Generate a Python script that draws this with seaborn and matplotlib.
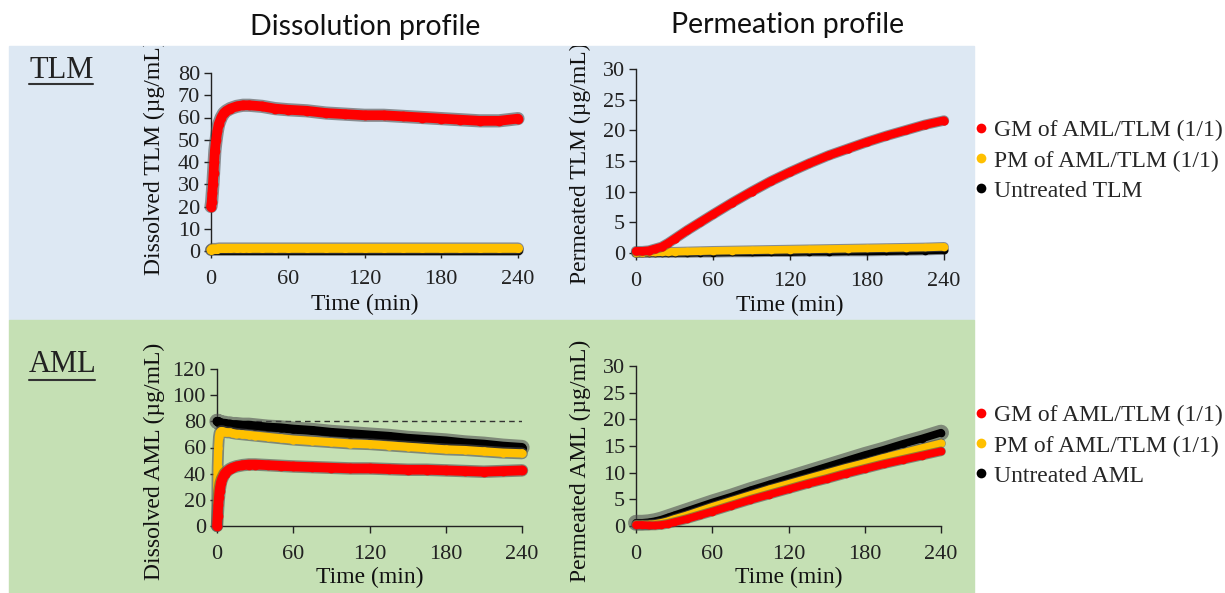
import matplotlib
matplotlib.use("Agg")
import matplotlib.pyplot as plt
import seaborn as sns
from matplotlib.patches import Rectangle
from matplotlib.lines import Line2D
from matplotlib.transforms import Bbox, TransformedBbox

# ---- data (time in min, concentration in ug/mL) ----
t_diss = [0, 0.5, 1, 1.5, 2, 2.5, 3, 4, 5, 6, 8, 10, 12, 15, 20, 25, 30, 40, 50, 60,
          75, 90, 105, 120, 135, 150, 165, 180, 195, 210, 225, 240]
tlm_diss_gm = [20, 22, 26, 30, 35, 40, 45, 50, 54, 57, 60, 62, 63, 64, 65, 65.5, 65.5, 65, 64, 63.5,
               63, 62, 61.5, 61, 61, 60.5, 60, 59.5, 59, 58.5, 58.5, 59.5]
tlm_diss_pm = [0.5, 0.8, 1, 1, 1, 1, 1, 1, 1, 1.2, 1.2, 1.2, 1.2, 1.2, 1.2, 1.2, 1.2, 1.2, 1.2, 1.2,
               1.2, 1.2, 1.2, 1.2, 1.2, 1.2, 1.2, 1.2, 1.2, 1.2, 1.2, 1.2]
tlm_diss_un = [0.6] * 32
aml_diss_gm = [0, 8, 16, 22, 27, 30, 33, 36, 38, 40, 42, 43.5, 44.5, 45.5, 46.5, 47, 47, 46.5, 46, 45.5,
               45, 44.5, 44, 44, 43.5, 43, 43, 42.5, 42, 41.5, 42, 42.5]
aml_diss_pm = [0, 45, 60, 68, 71, 72, 72.5, 72.5, 72, 72, 71.5, 71.5, 71, 70.5, 70, 69.5, 69, 68, 67, 66,
               65, 64, 63, 62.5, 61.5, 60.5, 59.5, 58.5, 58, 57, 56, 55.5]
aml_diss_un = [80, 80, 79.5, 79.5, 79, 79, 79, 78.5, 78.5, 78.5, 78, 78, 77.5, 77.5, 77, 77, 76.5, 75.5, 75, 74,
               73, 71.5, 70.5, 69.5, 68.5, 67, 66, 65, 63.5, 62.5, 61, 60]

t_perm = [0, 5, 10, 15, 20, 25, 30, 40, 50, 60, 75, 90, 105, 120, 135, 150, 165, 180, 195, 210, 225, 240]
tlm_perm_gm = [0.3, 0.3, 0.4, 0.7, 1.0, 1.6, 2.3, 3.7, 5.0, 6.3, 8.2, 10.0, 11.7, 13.2, 14.6, 15.9,
               17.0, 18.1, 19.1, 20.0, 20.9, 21.6]
tlm_perm_pm = [0, 0.05, 0.1, 0.1, 0.15, 0.2, 0.2, 0.25, 0.3, 0.35, 0.4, 0.45, 0.5, 0.55, 0.6, 0.65,
               0.7, 0.75, 0.8, 0.85, 0.9, 1.0]
tlm_perm_un = [0, 0, 0, 0, 0, 0, 0, 0, 0.05, 0.05, 0.1, 0.1, 0.15, 0.15, 0.2, 0.2,
               0.25, 0.25, 0.3, 0.35, 0.4, 0.5]
aml_perm_gm = [0.2, 0.2, 0.1, 0.1, 0.2, 0.4, 0.7, 1.3, 2.0, 2.7, 3.8, 4.9, 5.9, 6.9, 7.9, 8.8,
               9.8, 10.7, 11.6, 12.4, 13.2, 14.0]
aml_perm_pm = [0.3, 0.3, 0.3, 0.4, 0.6, 0.9, 1.3, 2.0, 2.8, 3.6, 4.7, 5.8, 6.9, 7.9, 8.9, 9.9,
               10.9, 11.8, 12.8, 13.7, 14.6, 15.5]
aml_perm_un = [0.6, 0.6, 0.7, 0.9, 1.2, 1.6, 2.0, 2.8, 3.6, 4.4, 5.5, 6.7, 7.8, 8.9, 10.0, 11.1,
               12.2, 13.3, 14.3, 15.4, 16.4, 17.5]

time_ticks = [0, 60, 120, 180, 240]
legend_tlm = ["GM of AML/TLM (1/1)", "PM of AML/TLM (1/1)", "Untreated TLM"]
legend_aml = ["GM of AML/TLM (1/1)", "PM of AML/TLM (1/1)", "Untreated AML"]

RED, YELLOW, BLACK, GREY = "#ff0000", "#ffc000", "#000000", "#505050"

sns.set_theme(style="ticks")
plt.rcParams["font.family"] = ["Liberation Serif", "DejaVu Serif"]

W, H = 1225, 593
fig = plt.figure(figsize=(W / 100, H / 100), dpi=100)


def fx(px):
    return px / W


def fy(py):
    return 1 - py / H


# coloured panels (behind the axes)
fig.patches.append(Rectangle((fx(9), fy(320)), fx(974) - fx(9), fy(46) - fy(320),
                             transform=fig.transFigure, color="#dde8f3", zorder=-5))
fig.patches.append(Rectangle((fx(9), fy(593)), fx(974) - fx(9), fy(320) - fy(593),
                             transform=fig.transFigure, color="#c5e0b4", zorder=-5))


def make_ax(x0, x1, y_bot, y_top):
    ax = fig.add_axes([fx(x0), fy(y_bot), (x1 - x0) / W, (y_bot - y_top) / H])
    ax.set_facecolor("none")
    return ax


def draw(ax, t, y, color, lw, err_lw):
    # grey halo stands in for the error bars, coloured points on top
    sns.lineplot(x=t, y=y, ax=ax, color=GREY, lw=err_lw, alpha=0.6, estimator=None, sort=False,
                 legend=False, clip_on=False, zorder=3, solid_capstyle="round")
    sns.lineplot(x=t, y=y, ax=ax, color=color, lw=lw, marker="o", markersize=lw, markeredgewidth=0,
                 estimator=None, sort=False, legend=False, clip_on=False, zorder=3,
                 solid_capstyle="round")


def style(ax, ymax, ystep, ylabel, ylab_xy, xlab_y, clip_top=None):
    ax.set_xlim(0, 240)
    ax.set_ylim(0, ymax)
    ax.set_xticks(time_ticks)
    ax.set_yticks(list(range(0, ymax + 1, ystep)))
    sns.despine(ax=ax)
    for s in ("left", "bottom"):
        ax.spines[s].set_color("#222222")
        ax.spines[s].set_linewidth(1.0)
    ax.tick_params(direction="out", length=5, width=1, labelsize=16, pad=3,
                   colors="#222222")
    ax.tick_params(axis="x", pad=8.5)
    ax.set_xlabel("Time (min)", fontsize=17, color="#111111")
    ax.set_ylabel(ylabel, fontsize=17, color="#111111")
    ax.xaxis.set_label_coords(0.5, xlab_y)
    ax.yaxis.set_label_coords(*ylab_xy)
    if clip_top is not None:
        box = TransformedBbox(Bbox.from_extents(0, 0, 1, fy(clip_top)), fig.transFigure)
        ax.yaxis.label.set_clip_box(box)
        ax.yaxis.label.set_clip_on(True)


# TLM dissolution
ax1 = make_ax(211, 518, 251, 73)
draw(ax1, t_diss, tlm_diss_un, BLACK, 6.5, 8.5)
draw(ax1, t_diss, tlm_diss_pm, YELLOW, 6.5, 8.5)
draw(ax1, t_diss, tlm_diss_gm, RED, 7, 9.5)
style(ax1, 80, 10, "Dissolved TLM (µg/mL)", (-0.15, 0.53), -43 / 178, clip_top=46)

# TLM permeation
ax2 = make_ax(636, 944, 253, 69)
draw(ax2, t_perm, tlm_perm_un, BLACK, 5.5, 7)
draw(ax2, t_perm, tlm_perm_pm, YELLOW, 5.5, 7)
draw(ax2, t_perm, tlm_perm_gm, RED, 6, 7.5)
style(ax2, 30, 5, "Permeated TLM (µg/mL)", (-0.146, 0.49), -42 / 184, clip_top=46)

# AML dissolution
ax3 = make_ax(217, 522, 526, 369)
ax3.axhline(80, color="#333333", lw=1, ls=(0, (4, 3)), zorder=2)
draw(ax3, t_diss, aml_diss_un, BLACK, 6.5, 11)
draw(ax3, t_diss, aml_diss_pm, YELLOW, 6, 8.5)
draw(ax3, t_diss, aml_diss_gm, RED, 7, 9)
style(ax3, 120, 20, "Dissolved AML (µg/mL)", (-0.17, 0.41), -41 / 157)

# AML permeation
ax4 = make_ax(636, 941, 526, 366)
draw(ax4, t_perm, aml_perm_un, BLACK, 5.5, 11.5)
draw(ax4, t_perm, aml_perm_pm, YELLOW, 5.5, 7)
draw(ax4, t_perm, aml_perm_gm, RED, 5.5, 7)
style(ax4, 30, 5, "Permeated AML (µg/mL)", (-0.148, 0.41), -41 / 160)

# legends
for labels, top in ((legend_tlm, 120), (legend_aml, 405)):
    handles = [Line2D([], [], ls="", marker="o", markersize=7, markeredgewidth=0, color=c)
               for c in (RED, YELLOW, BLACK)]
    fig.legend(handles, labels, loc="upper left", bbox_to_anchor=(fx(976), fy(top)),
               frameon=False, fontsize=17, handlelength=0.4, handletextpad=0.35,
               labelspacing=0.36, borderpad=0, borderaxespad=0)

# column titles and row labels
fig.text(fx(365), fy(27), "Dissolution profile", ha="center", va="center",
         fontsize=20.5, family="Lato", color="#111111")
fig.text(fx(788), fy(25), "Permeation profile", ha="center", va="center",
         fontsize=20.5, family="Lato", color="#111111")
for name, yc, yl, x1 in (("TLM", 70, 84, 93), ("AML", 365, 380, 95)):
    fig.text(fx(29), fy(yc), name, ha="left", va="center", fontsize=22, color="#222222")
    fig.add_artist(Line2D([fx(29), fx(x1)], [fy(yl), fy(yl)], transform=fig.transFigure,
                          color="#333333", lw=1.5))

fig.savefig("out.png", dpi=100)
